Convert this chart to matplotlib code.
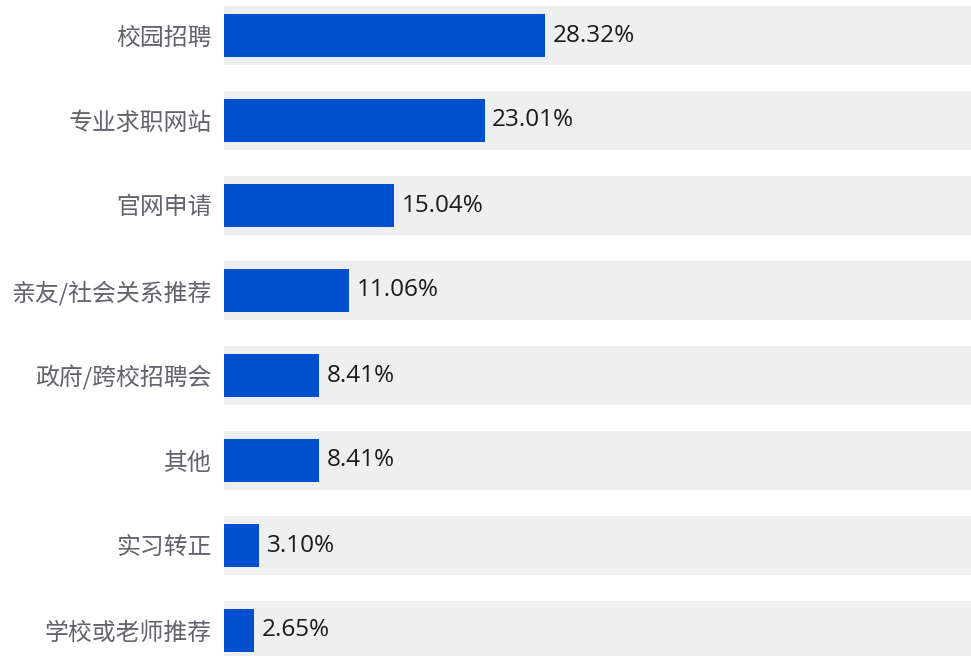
import matplotlib
matplotlib.use('Agg')
import matplotlib.pyplot as plt

# channel names and share (%)
channels = ['校园招聘', '专业求职网站', '官网申请', '亲友/社会关系推荐',
            '政府/跨校招聘会', '其他', '实习转正', '学校或老师推荐']
shares = [28.32, 23.01, 15.04, 11.06, 8.41, 8.41, 3.10, 2.65]
value_labels = ['28.32%', '23.01%', '15.04%', '11.06%', '8.41%', '8.41%', '3.10%', '2.65%']

plt.rcParams['font.family'] = ['Noto Sans CJK SC', 'DejaVu Sans']

W, H = 971, 656
fig = plt.figure(figsize=(W / 100, H / 100), dpi=100)
ax = fig.add_axes([224 / W, 0, 1 - 224 / W, 1])

xmax = 65.9
ypos = list(range(len(channels)))

# gray background bands, then the blue bars
ax.barh(ypos, [xmax] * len(ypos), height=0.694, color='#efefef', zorder=1)
ax.barh(ypos, shares, height=0.506, color='#004fcf', zorder=2)

for y, v, lab in zip(ypos, shares, value_labels):
    ax.text(v + 0.65, y, lab, va='center', ha='left', fontsize=17.5,
            color='#1a1a1a', family=['Open Sans', 'DejaVu Sans'], zorder=3)

ax.set_xlim(0, xmax)
ax.set_ylim((H - 35.5) / 85, -35.5 / 85)
ax.set_yticks(ypos)
ax.set_yticklabels(channels, fontsize=17.2, color='#62636b')
ax.tick_params(axis='y', length=0, pad=9)
ax.set_xticks([])
for s in ax.spines.values():
    s.set_visible(False)

fig.savefig('out.png', dpi=100)
